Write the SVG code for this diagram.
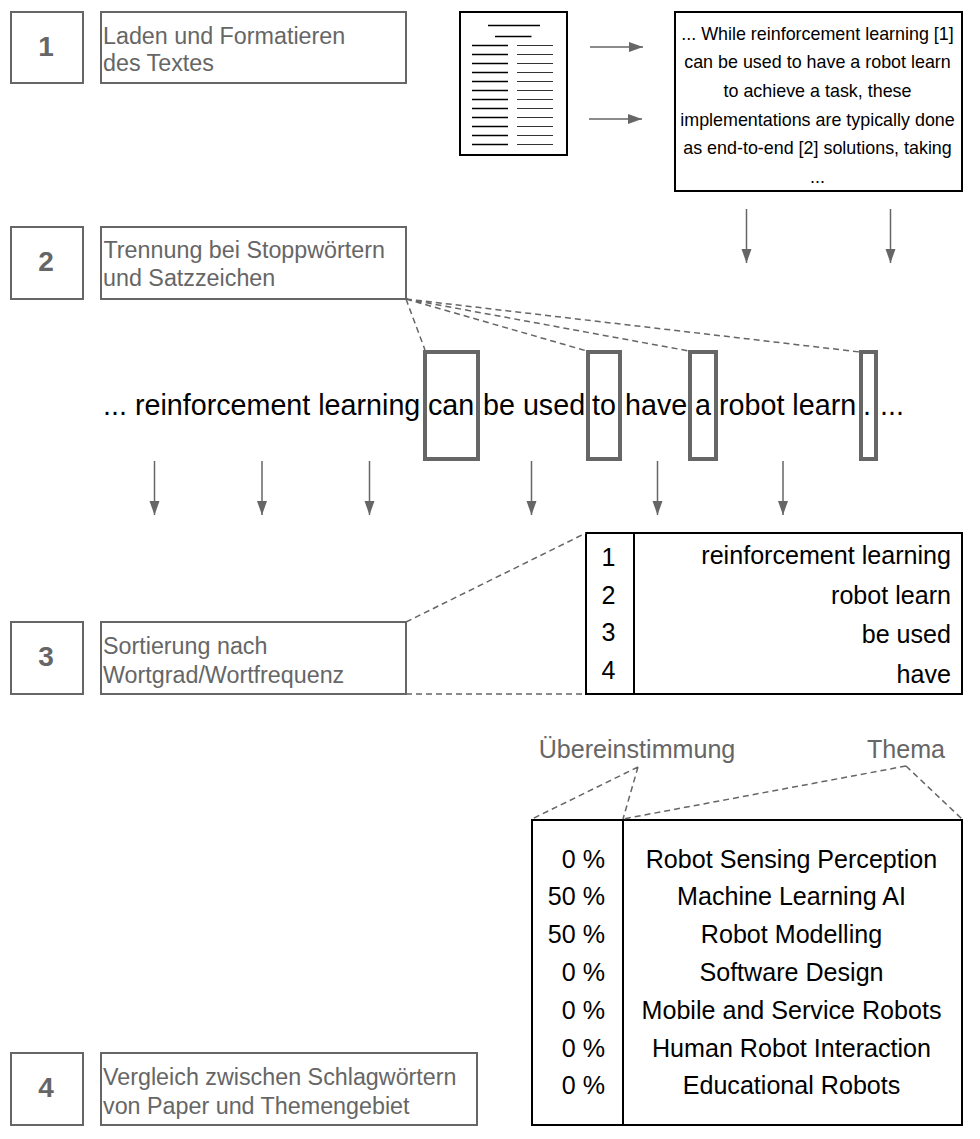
<svg xmlns="http://www.w3.org/2000/svg" width="980" height="1139" viewBox="0 0 980 1139">
<defs>
<marker id="a" markerUnits="userSpaceOnUse" markerWidth="14" markerHeight="12" refX="14" refY="5" orient="auto"><path d="M0 0L14 5L0 10Z" fill="#666"/></marker>
</defs>
<style>
text{font-family:"Liberation Sans",Arial,sans-serif}
.box{fill:none;stroke:#666;stroke-width:2}
.num{font-size:28px;font-weight:bold;fill:#666;text-anchor:middle}
.lab{font-size:23.3px;fill:#666}
.arr{stroke:#666;stroke-width:1.5;fill:none;marker-end:url(#a)}
.dash{stroke:#666;stroke-width:1.5;fill:none;stroke-dasharray:6 4}
.hi{fill:none;stroke:#666;stroke-width:4}
.k{stroke:#000;stroke-width:2;fill:#fff}
.doc{font-size:17.9px;fill:#000;text-anchor:middle}
.big{font-size:28.7px;fill:#000}
.t{font-size:25.1px;fill:#000}
.e{text-anchor:end}
.m{text-anchor:middle}
.l{stroke:#000;stroke-width:1.5}
.g{stroke:#333;stroke-width:1}
</style>
<g id="step1"><rect class="box" x="11" y="12" width="72" height="71"/><text class="num" x="46" y="56">1</text><rect class="box" x="101" y="12" width="305" height="71"/><text class="lab" x="103" y="44">Laden und Formatieren</text><text class="lab" x="103" y="71">des Textes</text></g>
<g id="step2"><rect class="box" x="11" y="227" width="72" height="72"/><text class="num" x="46" y="271">2</text><rect class="box" x="101" y="227" width="305" height="72"/><text class="lab" x="103.500" y="258">Trennung bei Stoppwörtern</text><text class="lab" x="103" y="286">und Satzzeichen</text></g>
<g id="step3"><rect class="box" x="11" y="622" width="72" height="72"/><text class="num" x="46" y="666">3</text><rect class="box" x="101" y="622" width="305" height="72"/><text class="lab" x="103" y="654">Sortierung nach</text><text class="lab" x="103" y="683">Wortgrad/Wortfrequenz</text></g>
<g id="step4"><rect class="box" x="11" y="1053" width="72" height="72"/><text class="num" x="46" y="1097">4</text><rect class="box" x="101" y="1053" width="376" height="72"/><text class="lab" x="103" y="1085">Vergleich zwischen Schlagwörtern</text><text class="lab" x="103" y="1114">von Paper und Themengebiet</text></g>
<g id="paper"><rect class="k" x="460" y="12" width="107" height="143"/>
<path class="l" d="M488 25.500H540M495 36.500H531.500"/>
<path class="l" d="M472 45.500H508M472 54.500H508M472 63.500H508M472 72.500H508M472 81.500H508M472 90.500H508M472 99.500H508M472 108.500H508M472 117.500H508M472 126.500H508M472 135.500H508M472 144.500H508"/>
<path class="g" d="M517 45.500H553M517 54.500H553M517 63.500H553M517 72.500H553M517 81.500H553M517 90.500H553M517 99.500H553M517 108.500H553M517 117.500H553M517 126.500H553M517 135.500H553M517 144.500H553"/></g>
<g id="excerpt"><rect class="k" x="675" y="12" width="287" height="179"/>
<text class="doc" x="817.500" y="40">... While reinforcement learning [1]</text><text class="doc" x="817.500" y="68">can be used to have a robot learn</text><text class="doc" x="817.500" y="97">to achieve a task, these</text><text class="doc" x="817.500" y="126">implementations are typically done</text><text class="doc" x="817.500" y="154">as end-to-end [2] solutions, taking</text><text class="doc" x="817.500" y="183">...</text></g>
<g id="sentence"><text class="big" x="103" y="415">... reinforcement learning</text><text class="big" x="428" y="415">can</text><text class="big" x="483" y="415">be used</text><text class="big" x="592" y="415">to</text><text class="big" x="625" y="415">have</text><text class="big" x="695" y="415">a</text><text class="big" x="719" y="415">robot learn</text><text class="big" x="863" y="415">.</text><text class="big" x="880" y="415">...</text>
<rect class="hi" x="425" y="352" width="53" height="107"/><rect class="hi" x="588" y="352" width="32" height="107"/><rect class="hi" x="690" y="352" width="26" height="107"/><rect class="hi" x="861" y="352" width="15" height="107"/></g>
<g id="ranking"><rect class="k" x="586" y="533" width="376" height="161"/><path class="k" d="M634 533V694"/>
<text class="t m" x="608.500" y="566">1</text><text class="t m" x="608.500" y="604">2</text><text class="t m" x="608.500" y="641">3</text><text class="t m" x="608.500" y="679">4</text>
<text class="t e" x="951" y="564">reinforcement learning</text><text class="t e" x="951" y="604">robot learn</text><text class="t e" x="951" y="643">be used</text><text class="t e" x="951" y="683">have</text></g>
<g id="headers"><text class="lab m" style="font-size:25.100px" x="637" y="758">Übereinstimmung</text><text class="lab m" style="font-size:25.100px" x="906" y="758">Thema</text></g>
<g id="topics"><rect class="k" x="532" y="820" width="430" height="305"/><path class="k" d="M623 820V1125"/>
<text class="t e" x="605" y="868">0 %</text><text class="t e" x="605" y="905">50 %</text><text class="t e" x="605" y="943">50 %</text><text class="t e" x="605" y="981">0 %</text><text class="t e" x="605" y="1019">0 %</text><text class="t e" x="605" y="1057">0 %</text><text class="t e" x="605" y="1094">0 %</text>
<text class="t m" x="791.500" y="868">Robot Sensing Perception</text><text class="t m" x="791.500" y="905">Machine Learning AI</text><text class="t m" x="791.500" y="943">Robot Modelling</text><text class="t m" x="791.500" y="981">Software Design</text><text class="t m" x="791.500" y="1019">Mobile and Service Robots</text><text class="t m" x="791.500" y="1057">Human Robot Interaction</text><text class="t m" x="791.500" y="1094">Educational Robots</text></g>
<g id="connectors">
<path class="arr" d="M590 47H643"/><path class="arr" d="M589 119H642"/>
<path class="arr" d="M746.500 209V263"/><path class="arr" d="M890.500 209V263"/>
<path class="arr" d="M154.500 461V515"/><path class="arr" d="M262 461V515"/><path class="arr" d="M369.500 461V515"/><path class="arr" d="M531.500 461V515"/><path class="arr" d="M657.500 461V515"/><path class="arr" d="M783 461V515"/>
<path class="dash" d="M406 299L425 350M406 299L587 351M406 299L689 351M406 299L860 352"/>
<path class="dash" d="M406 622L586 533M406 694H586"/>
<path class="dash" d="M638 767L532 819M638 767L623 819M906 766L623 819M906 766L962 819"/>
</g>
</svg>
